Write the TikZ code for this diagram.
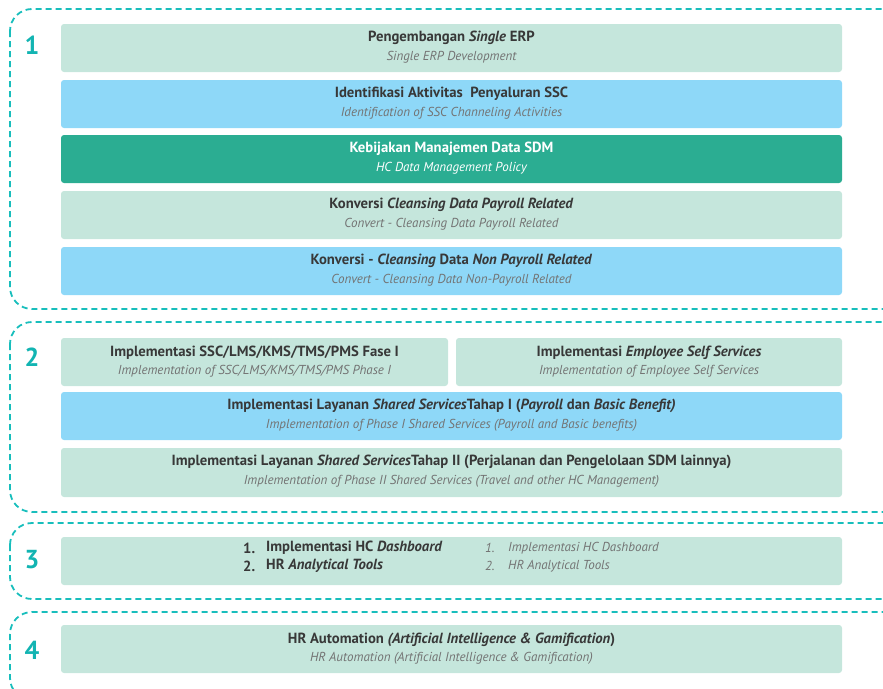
\documentclass[tikz,border=0pt]{standalone}
\usepackage{fontspec}
\setmainfont{PT Sans}
\usetikzlibrary{calc}
\definecolor{lgreen}{HTML}{C5E6DC}
\definecolor{lblue}{HTML}{8ED8F8}
\definecolor{dgreen}{HTML}{2BAD92}
\definecolor{frameteal}{HTML}{18BEBC}
\definecolor{numteal}{HTML}{12B4B2}
\definecolor{ttlgray}{HTML}{383838}
\definecolor{subgray}{HTML}{737373}
\tikzset{
  frame/.style={draw=frameteal, line width=1.8pt, dash pattern=on 6pt off 4pt, rounded corners=22pt},
  bar/.style={fill=#1, draw=none, rounded corners=3pt, inner sep=0pt, outer sep=0pt, rectangle},
  ttl/.style={inner sep=0pt, text=ttlgray, font=\fontsize{14.7}{16}\selectfont\bfseries},
  sub/.style={inner sep=0pt, text=subgray, font=\fontsize{13}{15}\selectfont\itshape},
  wttl/.style={ttl, text=white},
  wsub/.style={sub, text=white},
  num/.style={inner sep=0pt, text=numteal, font=\fontsize{26}{28}\selectfont\bfseries},
  lst/.style={inner sep=0pt, anchor=west, text=ttlgray, font=\fontsize{14.7}{16}\selectfont\bfseries},
  lsti/.style={inner sep=0pt, anchor=west, text=subgray, font=\fontsize{13}{15}\selectfont\itshape}
}
\begin{document}
\begin{tikzpicture}[x=1pt, y=-1pt]
\useasboundingbox (0,0) rectangle (883,688);
% frames
\begin{scope}
\clip (0,0) rectangle (883,688);
\draw[frame] (10,9) rectangle (906,309);
\draw[frame] (10,322) rectangle (906,512);
\draw[frame] (10,523) rectangle (906,599);
\draw[frame] (10,612) rectangle (906,700);
\end{scope}
% numbers
\node[num] (n1) at (32,45) {1};
\node[num] (n2) at (32,357) {2};
\node[num] (n3) at (32,560) {3};
\node[num] (n4) at (32,650) {4};
% section 1
\node[bar=lgreen, minimum width=781, minimum height=48] (b1) at (451.5,48) {};
\node[ttl] (t1) at (451.5,37.5) {Pengembangan \textit{Single} ERP};
\node[sub] (s1) at (451.5,57) {Single ERP Development};
\node[bar=lblue, minimum width=781, minimum height=48] (b2) at (451.5,104) {};
\node[ttl] (t2) at (451.5,93.5) {Identifikasi Aktivitas\ \ Penyaluran SSC};
\node[sub] (s2) at (451.5,113) {Identification of SSC Channeling Activities};
\node[bar=dgreen, minimum width=781, minimum height=48] (b3) at (451.5,159) {};
\node[wttl] (t3) at (451.5,148.5) {Kebijakan Manajemen Data SDM};
\node[wsub] (s3) at (451.5,168) {HC Data Management Policy};
\node[bar=lgreen, minimum width=781, minimum height=48] (b4) at (451.5,215) {};
\node[ttl] (t4) at (451.5,204.5) {Konversi \textit{Cleansing Data Payroll Related}};
\node[sub] (s4) at (451.5,224) {Convert - Cleansing Data Payroll Related};
\node[bar=lblue, minimum width=781, minimum height=48] (b5) at (451.5,271) {};
\node[ttl] (t5) at (451.5,260.5) {Konversi - \textit{Cleansing} Data \textit{Non Payroll Related}};
\node[sub] (s5) at (451.5,280) {Convert - Cleansing Data Non-Payroll Related};
% section 2
\node[bar=lgreen, minimum width=387, minimum height=48] (b6) at (254.5,362) {};
\node[ttl] (t6) at (254.5,352.5) {Implementasi SSC/LMS/KMS/TMS/PMS Fase I};
\node[sub] (s6) at (254.5,371) {Implementation of SSC/LMS/KMS/TMS/PMS Phase I};
\node[bar=lgreen, minimum width=386, minimum height=48] (b7) at (649,362) {};
\node[ttl] (t7) at (649,352.5) {Implementasi \textit{Employee Self Services}};
\node[sub] (s7) at (649,371) {Implementation of Employee Self Services};
\node[bar=lblue, minimum width=781, minimum height=48] (b8) at (451.5,416) {};
\node[ttl] (t8) at (451.5,406) {Implementasi Layanan \textit{Shared Services}Tahap I (\textit{Payroll} dan \textit{Basic Benefit)}};
\node[sub] (s8) at (451.5,425) {Implementation of Phase I Shared Services (Payroll and Basic benefits)};
\node[bar=lgreen, minimum width=781, minimum height=49] (b9) at (451.5,472.5) {};
\node[ttl] (t9) at (451.5,462) {Implementasi Layanan \textit{Shared Services}Tahap II (Perjalanan dan Pengelolaan SDM lainnya)};
\node[sub] (s9) at (451.5,481) {Implementation of Phase II Shared Services (Travel and other HC Management)};
% section 3
\node[bar=lgreen, minimum width=781, minimum height=48] (b10) at (451.5,561) {};
\node[lst] (l1n) at (243,548) {1.};
\node[lst] (l1t) at (266,548) {Implementasi HC \textit{Dashboard}};
\node[lst] (l2n) at (243,566) {2.};
\node[lst] (l2t) at (266,566) {HR \textit{Analytical Tools}};
\node[lsti] (r1n) at (485,548) {1.};
\node[lsti] (r1t) at (508,548) {Implementasi HC Dashboard};
\node[lsti] (r2n) at (485,566) {2.};
\node[lsti] (r2t) at (508,566) {HR Analytical Tools};
% section 4
\node[bar=lgreen, minimum width=781, minimum height=48] (b11) at (451.5,649) {};
\node[ttl] (t11) at (451.5,639.5) {HR Automation \textit{(Artificial Intelligence \& Gamification})};
\node[sub] (s11) at (451.5,658) {HR Automation (Artificial Intelligence \& Gamification)};
\end{tikzpicture}
\end{document}
